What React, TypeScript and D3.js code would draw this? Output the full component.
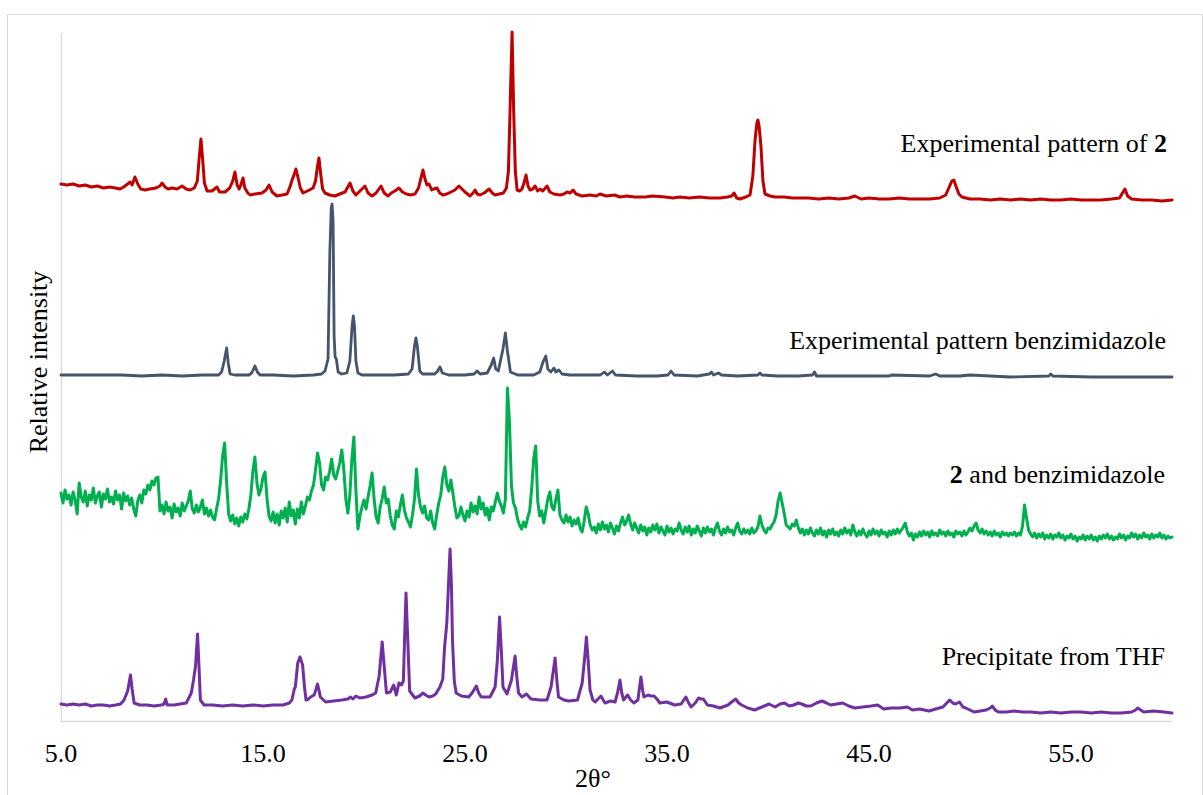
import React from 'react';
import * as d3 from 'd3';

// ---------- data ----------
const thetaDomain: [number, number] = [5, 60];
const intensityDomain: [number, number] = [0, 688];
const xTickValues = [5, 15, 25, 35, 45, 55];
const xTickLabels = ['5.0', '15.0', '25.0', '35.0', '45.0', '55.0'];

// Experimental pattern of 2 : [2θ, intensity]
const pattern2: [number, number][] = [
  [5.0,537],[5.3,536],[5.6,537],[5.9,535],[6.2,536],[6.5,534],[6.8,535],[7.1,533],[7.4,534],[7.7,533],[7.92,532],[8.1,534],[8.3,537],[8.42,539],[8.52,536],[8.66,544],[8.8,537],[8.95,532],[9.16,531],[9.4,532],[9.7,533],[9.9,535],[10.0,538],[10.15,534],[10.3,532],[10.5,533],[10.75,532],[10.99,535],[11.2,532],[11.39,531],[11.6,533],[11.75,540],[11.85,565],[11.93,582],[12.0,565],[12.1,538],[12.23,530],[12.48,530],[12.6,532],[12.72,534],[12.85,529],[13.12,529],[13.35,533],[13.5,540],[13.61,549],[13.72,536],[13.82,532],[13.92,537],[14.01,543],[14.1,533],[14.25,528],[14.36,526],[14.6,527],[14.95,528],[15.15,531],[15.3,536],[15.45,529],[15.69,525],[15.95,526],[16.19,527],[16.35,535],[16.44,541],[16.55,547],[16.63,552],[16.75,542],[16.85,533],[16.98,528],[17.2,530],[17.48,533],[17.6,540],[17.7,555],[17.77,563],[17.85,548],[17.95,532],[18.07,528],[18.3,526],[18.56,525],[18.8,527],[19.06,529],[19.2,534],[19.31,538],[19.45,530],[19.6,526],[19.8,530],[20.05,535],[20.2,528],[20.4,525],[20.6,528],[20.84,535],[21.0,528],[21.19,525],[21.35,528],[21.53,530],[21.73,533],[21.9,529],[22.1,527],[22.3,526],[22.52,527],[22.7,533],[22.82,543],[22.92,551],[23.02,542],[23.12,536],[23.22,537],[23.35,531],[23.45,532],[23.61,533],[23.75,528],[23.9,526],[24.1,527],[24.3,529],[24.5,531],[24.7,535],[24.85,532],[25.0,529],[25.25,525],[25.4,528],[25.5,531],[25.6,527],[25.74,526],[25.95,528],[26.19,532],[26.35,528],[26.49,526],[26.7,527],[26.9,528],[27.05,533],[27.15,550],[27.23,610],[27.33,689],[27.41,610],[27.49,550],[27.58,531],[27.7,530],[27.82,532],[27.92,538],[28.02,546],[28.12,535],[28.22,531],[28.35,532],[28.47,535],[28.6,530],[28.71,532],[28.85,530],[29.06,535],[29.2,529],[29.4,527],[29.7,526],[29.9,527],[30.05,529],[30.2,528],[30.35,531],[30.5,527],[30.8,525],[31.19,526],[31.5,525],[31.68,527],[32.0,525],[32.4,526],[32.67,524],[33.0,525],[33.4,524],[33.91,524],[34.3,525],[34.9,524],[35.3,523],[35.64,524],[36.1,523],[36.63,524],[37.1,523],[37.62,523],[38.0,524],[38.2,525],[38.32,528],[38.45,523],[38.61,522],[38.9,524],[39.11,526],[39.25,545],[39.36,581],[39.45,598],[39.5,601],[39.56,595],[39.65,575],[39.75,540],[39.85,527],[40.1,525],[40.35,524],[40.8,524],[41.2,523],[41.58,523],[42.0,523],[42.5,522],[43.0,523],[43.5,522],[44.0,523],[44.3,525],[44.6,522],[45.0,523],[45.5,522],[46.0,522],[46.5,523],[47.0,522],[47.5,522],[48.0,522],[48.5,523],[48.8,526],[48.95,533],[49.1,540],[49.2,541],[49.3,535],[49.45,527],[49.6,524],[50.0,522],[50.5,522],[51.0,521],[51.5,522],[52.0,521],[52.5,522],[53.0,521],[53.5,522],[54.0,521],[54.5,521],[55.0,522],[55.5,521],[56.0,521],[56.5,521],[57.0,522],[57.4,523],[57.55,528],[57.67,532],[57.8,525],[58.0,522],[58.5,521],[59.0,521],[59.5,520],[60.0,521]
];

// Experimental pattern benzimidazole : [2θ, intensity]
const patternBenz: [number, number][] = [
  [5.0,346],[6.0,346],[7.0,346],[8.0,346],[9.0,345],[10.0,346],[11.0,345],[12.0,346],[12.8,346],[12.95,349],[13.08,360],[13.2,373],[13.28,358],[13.37,347],[13.6,346],[14.3,346],[14.44,348],[14.6,355],[14.72,349],[14.85,346],[15.5,346],[16.5,345],[17.5,346],[17.9,347],[18.07,350],[18.22,362],[18.31,470],[18.38,514],[18.42,517],[18.47,500],[18.52,385],[18.57,364],[18.63,362],[18.72,349],[18.9,347],[19.15,348],[19.3,360],[19.41,395],[19.47,405],[19.53,395],[19.6,360],[19.7,348],[19.9,346],[20.5,346],[21.5,346],[22.2,347],[22.38,352],[22.5,375],[22.57,383],[22.64,375],[22.76,350],[22.9,347],[23.5,347],[23.65,350],[23.76,354],[23.88,348],[24.2,346],[25.0,346],[25.45,347],[25.6,350],[25.75,347],[26.1,348],[26.3,356],[26.42,363],[26.52,352],[26.65,350],[26.88,372],[27.0,388],[27.1,370],[27.25,349],[27.6,346],[28.4,346],[28.7,349],[28.88,360],[29.0,365],[29.1,352],[29.25,349],[29.4,353],[29.5,349],[29.65,351],[29.8,347],[30.2,346],[31.0,346],[31.7,346],[31.9,349],[32.05,346],[32.3,350],[32.45,346],[33.5,345],[34.5,345],[35.05,346],[35.2,350],[35.35,346],[36.5,345],[37.1,347],[37.2,349],[37.3,346],[37.55,348],[37.7,346],[38.5,345],[39.5,346],[39.6,348],[39.7,346],[40.5,345],[41.5,345],[42.2,346],[42.3,349],[42.4,345],[44.0,345],[46.0,345],[46.1,346],[48.0,345],[48.3,347],[48.5,345],[49.5,345],[50.0,346],[52.0,344],[53.9,345],[54.0,347],[54.1,345],[56.0,344],[58.0,344],[60.0,344]
];

// 2 and benzimidazole : intensities on a 0.1° grid from 5.0° to 60.0°
const mixStart = 5.0;
const mixStep = 0.1;
const mixIntensity: number[] = [
  228,218,231,222,226,216,229,221,207,238, // 5
  224,219,230,215,226,221,233,218,225,229, // 6
  214,227,222,232,219,224,217,230,221,226, // 7
  212,228,220,225,216,223,212,205,220,226, // 8
  218,231,227,236,231,240,236,243,244,210, // 9
  216,207,219,210,214,203,217,209,213,205, // 10
  218,210,215,220,230,212,208,216,209,214, // 11
  221,207,213,205,211,204,201,212,222,240, // 12
  265,278,238,207,200,206,197,203,195,204, // 13
  199,207,202,212,226,250,264,238,226,232, // 14
  244,249,222,205,200,209,198,207,196,210, // 15
  203,213,199,219,205,211,197,212,203,219, // 16
  207,215,224,221,230,236,251,268,258,236, // 17
  231,244,241,250,262,246,242,250,258,271, // 18
  252,222,208,226,262,284,230,192,205,214, // 19
  221,212,224,235,248,222,204,198,214,222, // 20
  234,218,222,205,196,192,210,204,216,226, // 21
  211,203,199,194,206,222,252,226,214,208, // 22
  215,203,201,210,198,192,206,218,226,244, // 23
  254,236,230,241,228,214,203,205,214,206, // 24
  200,210,204,218,209,215,207,224,212,218, // 25
  206,213,201,214,210,219,228,220,215,208, // 26
  222,333,300,235,218,213,202,196,192,199, // 27
  194,203,210,232,262,275,220,205,210,198, // 28
  210,222,229,214,211,222,231,206,201,198, // 29
  206,199,204,195,201,197,203,193,189,200, // 30
  214,207,196,191,194,188,197,191,199,192, // 31
  196,189,198,193,187,195,190,198,204,196, // 32
  200,206,197,191,198,193,188,196,190,194, // 33
  186,193,189,196,191,197,188,194,190,186, // 34
  195,189,193,187,192,190,198,191,187,194, // 35
  189,195,186,192,188,195,190,185,193,188, // 36
  194,189,192,186,193,198,190,186,192,188, // 37
  194,189,191,186,193,198,190,187,192,188, // 38
  191,187,193,188,190,194,205,196,191,188, // 39
  193,192,196,199,206,220,228,218,208,196, // 40
  194,192,197,195,201,193,188,192,186,191, // 41
  187,193,188,185,191,187,193,186,190,184, // 42
  191,187,192,186,189,185,191,187,193,188, // 43
  191,186,196,189,185,190,186,192,187,184, // 44
  190,186,192,187,190,185,191,187,189,184, // 45
  190,186,191,187,192,188,191,194,198,189, // 46
  185,188,181,187,184,189,185,190,186,189, // 47
  184,190,186,188,185,191,187,189,185,190, // 48
  186,188,184,190,187,189,185,190,186,189, // 49
  193,190,195,198,191,188,192,187,190,186, // 50
  189,185,190,186,188,184,189,186,188,185, // 51
  188,186,189,185,188,186,195,216,203,191, // 52
  187,184,188,183,187,184,188,182,186,183, // 53
  187,182,186,184,188,183,186,181,185,183, // 54
  187,182,185,180,184,182,186,181,185,182, // 55
  186,181,184,180,185,182,186,183,187,182, // 56
  185,181,184,182,187,183,186,181,185,183, // 57
  188,184,187,182,186,183,188,184,186,182, // 58
  187,183,186,184,188,183,186,182,185,183, // 59
  184 // 60
];

// Precipitate from THF : [2θ, intensity]
const patternTHF: [number, number][] = [
  [5.0,17],[5.3,16],[5.6,17],[5.9,16],[6.2,17],[6.5,15],[6.8,16],[7.1,16],[7.4,15],[7.7,16],[7.95,17],[8.12,21],[8.3,30],[8.44,46],[8.52,32],[8.62,18],[8.9,16],[9.26,16],[9.6,15],[9.97,16],[10.1,17],[10.18,22],[10.26,16],[10.6,16],[10.9,17],[11.2,18],[11.45,28],[11.56,41],[11.66,55],[11.76,87],[11.82,60],[11.9,21],[12.08,16],[12.5,16],[13.0,15],[13.5,16],[14.0,15],[14.5,16],[15.0,15],[15.5,16],[16.0,16],[16.3,18],[16.43,21],[16.55,32],[16.6,34],[16.72,58],[16.83,64],[16.96,56],[17.05,35],[17.13,21],[17.25,22],[17.36,24],[17.53,26],[17.63,32],[17.7,37],[17.78,30],[17.84,24],[18.1,19],[18.5,20],[18.9,21],[19.2,22],[19.34,24],[19.45,22],[19.6,25],[19.8,23],[20.1,24],[20.4,26],[20.58,28],[20.75,45],[20.9,79],[20.98,60],[21.11,28],[21.3,29],[21.47,36],[21.6,26],[21.73,38],[21.85,36],[21.95,40],[22.02,90],[22.08,128],[22.15,90],[22.26,30],[22.52,23],[22.75,25],[22.92,28],[23.05,26],[23.22,24],[23.4,25],[23.55,27],[23.76,34],[23.9,42],[23.99,74],[24.1,98],[24.18,135],[24.26,172],[24.33,135],[24.38,81],[24.47,40],[24.56,28],[24.82,25],[25.18,24],[25.35,28],[25.56,35],[25.68,28],[25.8,24],[26.24,24],[26.49,34],[26.6,60],[26.71,104],[26.8,70],[26.88,34],[27.08,27],[27.3,41],[27.48,65],[27.56,45],[27.65,28],[27.82,24],[28.04,27],[28.27,22],[28.7,21],[29.06,21],[29.26,34],[29.46,63],[29.55,40],[29.63,24],[29.9,21],[30.13,20],[30.57,21],[30.8,38],[30.92,62],[31.01,84],[31.1,60],[31.19,31],[31.33,21],[31.44,19],[31.73,25],[31.93,18],[32.2,20],[32.43,19],[32.55,28],[32.67,41],[32.76,28],[32.85,21],[33.05,26],[33.2,21],[33.36,18],[33.56,21],[33.71,44],[33.8,30],[33.86,24],[34.06,26],[34.2,25],[34.36,25],[34.5,22],[34.65,18],[34.98,19],[35.39,16],[35.7,17],[35.93,24],[36.05,19],[36.19,14],[36.4,18],[36.56,23],[36.68,22],[36.8,22],[37.0,16],[37.3,15],[37.62,13],[38.02,16],[38.2,19],[38.4,22],[38.55,18],[38.7,16],[39.0,13],[39.34,11],[39.7,14],[40.05,17],[40.35,14],[40.6,17],[40.82,18],[41.05,15],[41.27,16],[41.5,18],[41.67,17],[41.9,15],[42.12,15],[42.4,18],[42.67,20],[42.9,18],[43.1,16],[43.4,17],[43.7,18],[44.0,15],[44.3,13],[44.7,14],[45.1,15],[45.43,16],[45.73,12],[46.1,13],[46.54,13],[46.9,14],[47.15,11],[47.5,12],[47.97,10],[48.3,12],[48.66,14],[48.85,18],[49.0,21],[49.15,18],[49.28,17],[49.48,19],[49.65,14],[49.79,13],[50.2,9],[50.5,10],[50.8,11],[51.0,13],[51.1,15],[51.25,11],[51.4,9],[51.8,9],[52.2,10],[52.6,9],[53.0,9],[53.5,8],[54.0,9],[54.5,8],[55.0,9],[55.5,9],[56.0,8],[56.5,9],[57.0,8],[57.5,8],[58.0,9],[58.2,11],[58.3,13],[58.45,11],[58.6,9],[59.1,10],[59.6,9],[60.0,8]
];

const seriesColors = ['#C00000', '#44546A', '#00B050', '#7030A0'];
const seriesWidths = [3, 2.8, 3, 3];

// ---------- chart ----------
const W = 1203;
const H = 795;
const FONT = "'Liberation Serif', 'Times New Roman', Times, serif";

export default function App() {
  const x = d3.scaleLinear().domain(thetaDomain).range([61, 1172]);
  const y = d3.scaleLinear().domain(intensityDomain).range([721, 33]);
  const line = d3
    .line<[number, number]>()
    .x((d) => x(d[0]))
    .y((d) => y(d[1]));

  const mixPoints: [number, number][] = mixIntensity.map((v, i) => [mixStart + i * mixStep, v]);
  const series = [pattern2, patternBenz, mixPoints, patternTHF];
  const textStyle = { fontFamily: FONT, fontSize: 26, fill: '#000' } as React.CSSProperties;

  return (
    <svg
      width={W}
      height={H}
      style={{ position: 'absolute', left: 0, top: 0, display: 'block', background: '#fff' }}
    >
      <rect x={7.5} y={14.5} width={1195} height={800} fill="#fff" stroke="#D9D9D9" strokeWidth={1} />
      {/* axes */}
      <line x1={61.5} x2={61.5} y1={33} y2={721.5} stroke="#D9D9D9" strokeWidth={1.3} />
      <line x1={61} x2={1172} y1={721.5} y2={721.5} stroke="#D9D9D9" strokeWidth={1.3} />

      {series.map((s, i) => (
        <path
          key={i}
          d={line(s) || ''}
          fill="none"
          stroke={seriesColors[i]}
          strokeWidth={seriesWidths[i]}
          strokeLinejoin="round"
          strokeLinecap="round"
        />
      ))}

      {/* tick labels */}
      {xTickValues.map((v, i) => (
        <text key={v} x={x(v)} y={762} textAnchor="middle" style={textStyle}>
          {xTickLabels[i]}
        </text>
      ))}

      {/* axis titles */}
      <text x={593} y={787} textAnchor="middle" style={textStyle}>
        2θ°
      </text>
      <text transform="translate(47,362) rotate(-90)" textAnchor="middle" style={textStyle}>
        Relative intensity
      </text>

      {/* series labels */}
      <text x={1167} y={152} textAnchor="end" style={textStyle}>
        Experimental pattern of <tspan fontWeight="bold">2</tspan>
      </text>
      <text x={1166} y={349} textAnchor="end" style={textStyle}>
        Experimental pattern benzimidazole
      </text>
      <text x={1165} y={483} textAnchor="end" style={textStyle}>
        <tspan fontWeight="bold">2</tspan> and benzimidazole
      </text>
      <text x={1165} y={665} textAnchor="end" style={textStyle}>
        Precipitate from THF
      </text>
    </svg>
  );
}
